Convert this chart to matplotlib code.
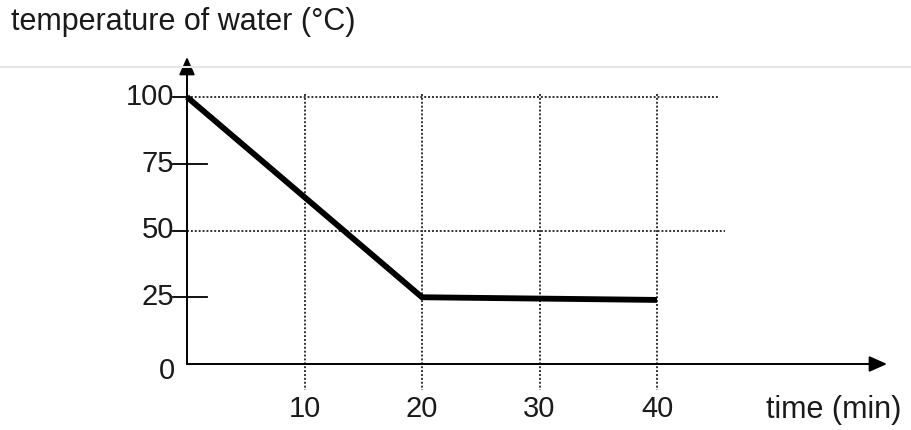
import matplotlib
matplotlib.use("Agg")
import matplotlib.pyplot as plt
from matplotlib.lines import Line2D

# ---- data ----
time_min = [0, 20, 40]
temp_c = [100, 25, 24]
x_ticks = [10, 20, 30, 40]
y_ticks = [0, 25, 50, 75, 100]
y_grid = [50, 100]
y_short = [25, 75]
y_label = "temperature of water (°C)"
x_label = "time (min)"

plt.rcParams['font.family'] = ['Liberation Sans', 'DejaVu Sans']

W, H = 911, 430
fig = plt.figure(figsize=(W / 100, H / 100), dpi=100)
# axes: x=0 at px 187, y=0 at px 364 ; arrow tips at px 887 (x) and 57 (y)
px_per_x = 11.75
px_per_y = 2.67
x0, y0 = 187, 364
x_tip, y_tip = 887, 57
ax = fig.add_axes([x0 / W, (H - y0) / H, (x_tip - x0) / W, (y0 - y_tip) / H])
xmax = (x_tip - x0) / px_per_x
ymax = (y0 - y_tip) / px_per_y
ax.set_xlim(0, xmax)
ax.set_ylim(0, ymax)
ax.axis('off')

# faint scan line near top
fig.add_artist(Line2D([0, 1], [(H - 67) / H] * 2, color='#e6e6e6', lw=1.5))

dot = dict(color='#333333', lw=1.4, linestyle=(0, (1, 1)), clip_on=False)

# vertical dotted grid lines
for xv in x_ticks:
    ax.plot([xv, xv], [101, -9.8], **dot)

# horizontal dotted grid lines
ax.plot([0, 45.2], [100, 100], **dot)
ax.plot([0, 45.8], [50, 50], **dot)

# y tick marks
for yv in y_grid:
    ax.plot([-1.2, 0], [yv, yv], color='black', lw=1.3, clip_on=False)
for yv in y_short:
    ax.plot([-1.2, 1.7], [yv, yv], color='black', lw=1.3, clip_on=False)

# axes with arrows
arrow = dict(arrowstyle='-|>,head_length=0.45,head_width=0.2', lw=1.4, color='black',
             mutation_scale=24, shrinkA=0, shrinkB=0)
ax.annotate('', xy=(xmax, 0), xytext=(0, 0), arrowprops=arrow, annotation_clip=False)
ax.annotate('', xy=(0, ymax), xytext=(0, 0), arrowprops=arrow, annotation_clip=False)

# data line
ax.plot(time_min, temp_c, color='black', lw=4.2, solid_capstyle='butt',
        solid_joinstyle='miter', clip_on=False)

fs_num = 21
fs_txt = 22
tc = '#1a1a1a'
# y tick labels
for yv in y_ticks:
    if yv == 0:
        ax.text(-1.0, -2.5, str(yv), ha='right', va='center', fontsize=fs_num, color=tc)
    else:
        ax.text(-1.1, yv, str(yv), ha='right', va='center', fontsize=fs_num, color=tc)
# x tick labels
for xv in x_ticks:
    ax.text(xv, -16.8, str(xv), ha='center', va='center', fontsize=fs_num, color=tc)

ax.text(49.3, -17.3, x_label, ha='left', va='center', fontsize=fs_txt, color=tc)
fig.text(11 / W, (H - 22) / H, y_label, ha='left', va='center', fontsize=fs_txt, color=tc)

fig.savefig('out.png', dpi=100, facecolor='white')
